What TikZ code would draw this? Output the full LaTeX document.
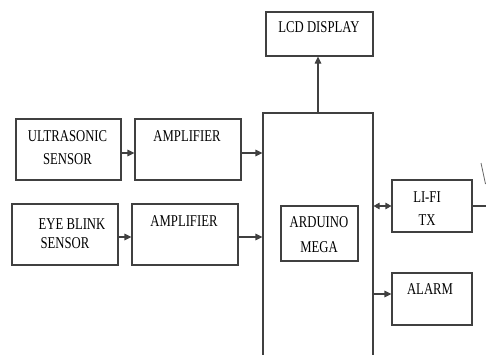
\documentclass[tikz,border=0pt]{standalone}
\usepackage{fontspec}
\usepackage{graphicx}
\setmainfont{Liberation Serif}
\usetikzlibrary{arrows.meta, positioning, calc}

\newcommand{\tallt}[1]{\scalebox{1}[1.3]{#1}}

\begin{document}
\begin{tikzpicture}[x=1pt, y=-1pt,
    blk/.style={draw=black!75, line width=1.1pt, inner sep=0pt, fill=none},
    lbl/.style={font=\fontsize{12.7}{14}\selectfont, inner sep=0pt, align=center},
    arr/.style={draw=black!75, line width=1.1pt, -{Triangle[length=7pt,width=6.5pt]}}]
    \useasboundingbox (0,0) rectangle (486,354);
    \clip (0,0) rectangle (486,354);
    % boxes
    \node[blk, minimum width=105pt, minimum height=61pt] (us) at (68.5,149.5) {};
    \node[blk, minimum width=106pt, minimum height=61pt] (amp1) at (188,149.5) {};
    \node[blk, minimum width=106pt, minimum height=61pt] (eb) at (65,234.5) {};
    \node[blk, minimum width=106pt, minimum height=61pt] (amp2) at (185,234.5) {};
    \node[blk, minimum width=107pt, minimum height=44pt] (lcd) at (319.5,34) {};
    \node[blk, minimum width=110pt, minimum height=307pt] (ard) at (318,266.5) {};
    \node[blk, minimum width=77pt, minimum height=55pt] (mega) at (319.5,233.5) {};
    \node[blk, minimum width=80pt, minimum height=52pt] (lifi) at (432,206) {};
    \node[blk, minimum width=80pt, minimum height=52pt] (alarm) at (432,299) {};
    % labels
    \node[lbl] (usA) at (67.5,136) {\tallt{ULTRASONIC}};
    \node[lbl] (usB) at (67.5,159) {\tallt{SENSOR}};
    \node[lbl] (amp1t) at (187,136) {\tallt{AMPLIFIER}};
    \node[lbl] (ebA) at (72,224) {\tallt{EYE BLINK}};
    \node[lbl] (ebB) at (65,243) {\tallt{SENSOR}};
    \node[lbl] (amp2t) at (184,221) {\tallt{AMPLIFIER}};
    \node[lbl] (lcdt) at (319,27) {\tallt{LCD DISPLAY}};
    \node[lbl] (megaA) at (319,222) {\tallt{ARDUINO}};
    \node[lbl] (megaB) at (319,247) {\tallt{MEGA}};
    \node[lbl] (lifiA) at (427,197) {\tallt{LI-FI}};
    \node[lbl] (lifiB) at (427,220) {\tallt{TX}};
    \node[lbl] (alarmt) at (430,289) {\tallt{ALARM}};
    % connectors
    \draw[arr] ([yshift=-3.5pt]us.east) -- ([yshift=-3.5pt]amp1.west);
    \draw[arr] ([yshift=-3.5pt]amp1.east) -- ([yshift=-3.5pt]amp1.east -| ard.west);
    \draw[arr] ([yshift=-2.5pt]eb.east) -- ([yshift=-2.5pt]amp2.west);
    \draw[arr] ([yshift=-2.5pt]amp2.east) -- ([yshift=-2.5pt]amp2.east -| ard.west);
    \draw[arr] (ard.north) -- (ard.north |- lcd.south);
    \draw[arr, {Triangle[length=6pt,width=6.5pt]}-{Triangle[length=6pt,width=6.5pt]}] (lifi.west -| ard.east) -- (lifi.west);
    \draw[arr] ([yshift=5pt]alarm.west -| ard.east) -- ([yshift=5pt]alarm.west);
    % antenna
    \coordinate (antB) at (486,206);
    \coordinate (antP) at (481,163);
    \coordinate (antQ) at (485.5,184);
    \draw[draw=black!75, line width=1.1pt] (lifi.east) -- (antB);
    \draw[draw=black!60, line width=0.8pt] (antP) -- (antQ);
\end{tikzpicture}
\end{document}
